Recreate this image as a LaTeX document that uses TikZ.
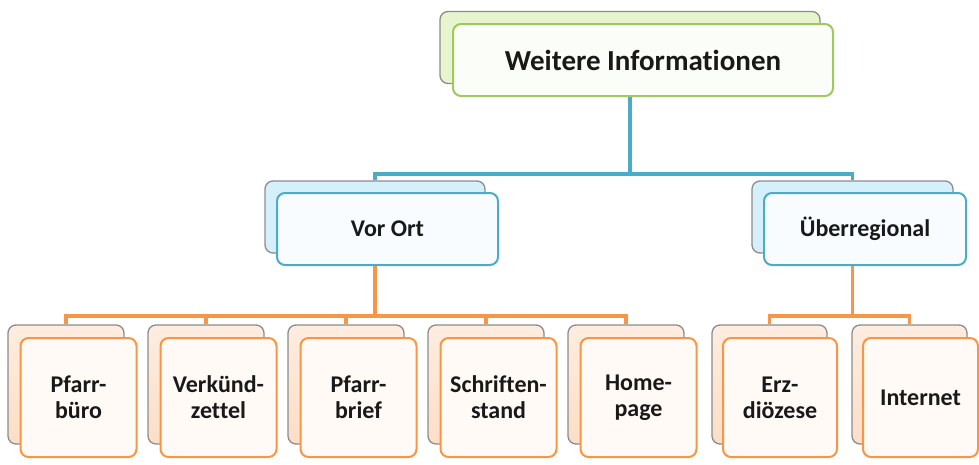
\documentclass[tikz,border=0pt]{standalone}
\usepackage{fontspec}
\setmainfont{Carlito}[Ligatures=NoCommon]
\usetikzlibrary{backgrounds}

\definecolor{greenline}{RGB}{158,200,96}
\definecolor{greenback}{RGB}{230,245,205}
\definecolor{greenfront}{RGB}{251,253,248}
\definecolor{blueline}{RGB}{75,172,198}
\definecolor{blueback}{RGB}{214,240,251}
\definecolor{bluefront}{RGB}{248,252,254}
\definecolor{orangeline}{RGB}{247,150,70}
\definecolor{orangeback}{RGB}{252,222,198}
\definecolor{orangefront}{RGB}{255,250,246}
\definecolor{boxgray}{RGB}{140,140,140}

\begin{document}
\begin{tikzpicture}[x=1pt,y=-1pt,
	backbox/.style={draw=boxgray, line width=1.3pt, rounded corners=8pt, inner sep=0pt},
	frontbox/.style={line width=2pt, rounded corners=8pt, inner sep=0pt, align=center, text=black!90},
	topsize/.style={minimum width=380pt, minimum height=72pt, font=\fontsize{29}{32}\selectfont\bfseries},
	leafsize/.style={minimum width=116pt, minimum height=119pt, font=\fontsize{24}{26}\selectfont\bfseries},
	midfont/.style={minimum height=72pt, font=\fontsize{24}{26}\selectfont\bfseries},
	bluelink/.style={draw=blueline, line width=3.8pt},
	orangelink/.style={draw=orangeline, line width=3.8pt}]

	\useasboundingbox (0,0) rectangle (979,464);

	% Level 0
	\node[backbox, topsize, fill=greenback] (topB) at (630,47.5) {};
	\node[frontbox, topsize, draw=greenline, fill=greenfront] (topF) at (643,60) {Weitere Informationen};

	% Level 1
	\node[backbox, midfont, minimum width=220pt, fill=blueback] (vorB) at (375,217) {};
	\node[frontbox, midfont, minimum width=221pt, draw=blueline, fill=bluefront] (vorF) at (387.5,229) {Vor Ort};
	\node[backbox, midfont, minimum width=201pt, fill=blueback] (ueberB) at (852.5,217) {};
	\node[frontbox, midfont, minimum width=202pt, draw=blueline, fill=bluefront] (ueberF) at (865,229) {Überregional};

	% Level 2
	\node[backbox, leafsize, top color=orangeback!55, bottom color=orangeback] (pbB) at (66,384.5) {};
	\node[frontbox, leafsize, draw=orangeline, fill=orangefront] (pbF) at (78.5,397.5) {Pfarr-\\büro};
	\node[backbox, leafsize, top color=orangeback!55, bottom color=orangeback] (vzB) at (206,384.5) {};
	\node[frontbox, leafsize, draw=orangeline, fill=orangefront] (vzF) at (218.5,397.5) {Verkünd-\\zettel};
	\node[backbox, leafsize, top color=orangeback!55, bottom color=orangeback] (pfB) at (346,384.5) {};
	\node[frontbox, leafsize, draw=orangeline, fill=orangefront] (pfF) at (358.5,397.5) {Pfarr-\\brief};
	\node[backbox, leafsize, top color=orangeback!55, bottom color=orangeback] (ssB) at (486,384.5) {};
	\node[frontbox, leafsize, draw=orangeline, fill=orangefront] (ssF) at (498.5,397.5) {Schriften-\\stand};
	\node[backbox, leafsize, top color=orangeback!55, bottom color=orangeback] (hpB) at (626,384.5) {};
	\node[frontbox, leafsize, draw=orangeline, fill=orangefront] (hpF) at (638.5,397.5) {Home-\\page};

	\node[backbox, leafsize, minimum width=115pt, top color=orangeback!55, bottom color=orangeback] (edB) at (769.5,384.5) {};
	\node[frontbox, leafsize, minimum width=114pt, draw=orangeline, fill=orangefront] (edF) at (780,397.5) {Erz-\\diözese};
	\node[backbox, leafsize, minimum width=115pt, top color=orangeback!55, bottom color=orangeback] (inB) at (909.5,384.5) {};
	\node[frontbox, leafsize, minimum width=115pt, draw=orangeline, fill=orangefront] (inF) at (920.5,397.5) {Internet};

	% Connectors
	\coordinate (bluebar) at (0,174);
	\coordinate (orangebar) at (0,316);
	\begin{scope}[on background layer]
		\draw[bluelink] (topB.south) -- (topB.south |- bluebar) -| (vorB.north);
		\draw[bluelink] (topB.south) -- (topB.south |- bluebar) -| (ueberB.north);

		\draw[orangelink] (vorB.south) -- (vorB.south |- orangebar) -| (pbB.north);
		\draw[orangelink] (vorB.south) -- (vorB.south |- orangebar) -| (vzB.north);
		\draw[orangelink] (vorB.south) -- (vorB.south |- orangebar) -| (pfB.north);
		\draw[orangelink] (vorB.south) -- (vorB.south |- orangebar) -| (ssB.north);
		\draw[orangelink] (vorB.south) -- (vorB.south |- orangebar) -| (hpB.north);

		\draw[orangelink] (ueberB.south) -- (ueberB.south |- orangebar) -| (edB.north);
		\draw[orangelink] (ueberB.south) -- (ueberB.south |- orangebar) -| (inB.north);
	\end{scope}

\end{tikzpicture}
\end{document}
